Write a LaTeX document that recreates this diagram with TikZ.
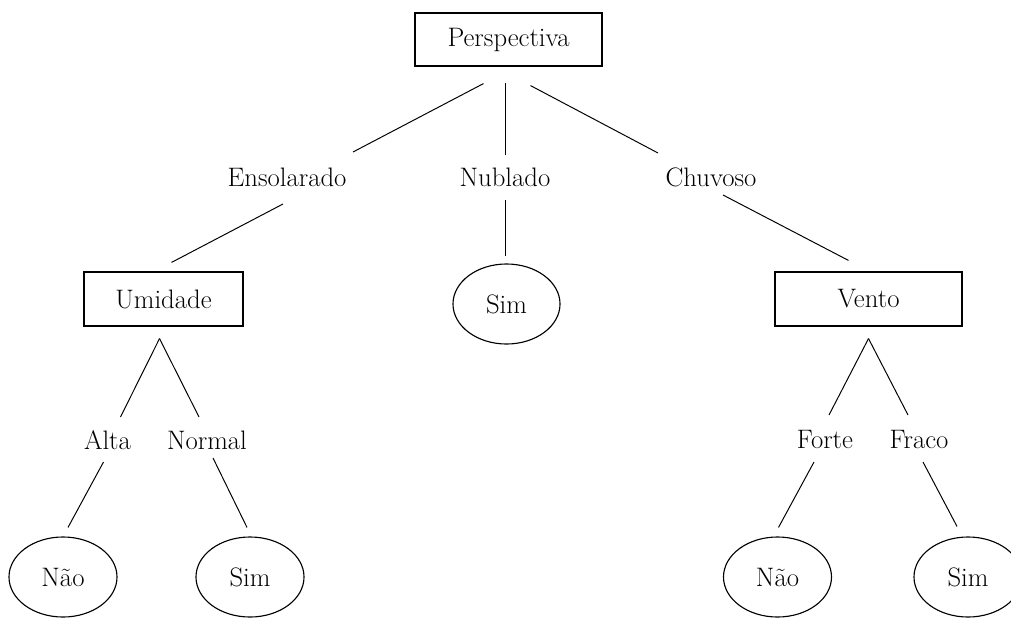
\documentclass[tikz,border=0pt]{standalone}
\usepackage{fontspec}
\usepackage{tikz}
\usetikzlibrary{shapes.geometric}

\begin{document}
\begin{tikzpicture}[x=0.025cm,y=-0.025cm,
		every node/.style={font=\fontsize{19}{22}\selectfont},
		box/.style={shape=rectangle,draw=black,line width=0.8pt,minimum width=4.675cm,minimum height=1.325cm,inner sep=0pt},
		leaf/.style={shape=ellipse,draw=black,line width=0.8pt,minimum width=2.675cm,minimum height=2cm,inner sep=0pt},
		lbl/.style={inner sep=0pt},
		branch/.style={draw=black,line width=0.7pt}]

		\useasboundingbox (0,0) rectangle (1011,618);

		\node[box] (p) at (508.5, 39.5)   {Perspectiva};

		\node[lbl] (en) at (287, 177)     {Ensolarado};
		\node[lbl] (nu) at (505, 177)     {Nublado};
		\node[lbl] (ch) at (711, 177)     {Chuvoso};

		\node[box,minimum width=3.975cm,minimum height=1.35cm] (u) at (163.5, 299) {Umidade};
		\node[leaf,minimum width=2.675cm] (s1) at (506.5, 304) {Sim};
		\node[box,minimum height=1.35cm] (v) at (868.5, 299) {Vento};

		\node[lbl] (al) at (107.5, 440)   {Alta};
		\node[lbl] (no) at (207, 440)     {Normal};
		\node[lbl] (fo) at (825, 440)     {Forte};
		\node[lbl] (fr) at (919, 440)     {Fraco};

		\node[leaf,minimum width=2.7cm] (n1) at (63, 577)   {Não};
		\node[leaf,minimum width=2.7cm] (s2) at (250, 577)  {Sim};
		\node[leaf,minimum width=2.7cm] (n2) at (777.5, 577) {Não};
		\node[leaf,minimum width=2.7cm] (s3) at (968, 577)  {Sim};

		% root to the three outlooks
		\path[branch] ([shift={(-25,17)}]p.south)  edge ([shift={(66,-25)}]en.center);
		\path[branch] ([shift={(-3.5,16)}]p.south) edge ([shift={(0,-22)}]nu.center);
		\path[branch] ([shift={(22,19)}]p.south)   edge ([shift={(-53,-24)}]ch.center);

		\path[branch] ([shift={(-4,27)}]en.center) edge ([shift={(8,-9)}]u.north);
		\path[branch] ([shift={(0,23)}]nu.center)  edge ([shift={(-1.5,-7)}]s1.north);
		\path[branch] ([shift={(12,18)}]ch.center) edge ([shift={(-20,-11)}]v.north);

		% Umidade
		\path[branch] ([shift={(-4,12)}]u.south) edge ([shift={(13,-23)}]al.center);
		\path[branch] ([shift={(-4,12)}]u.south) edge ([shift={(-8,-23)}]no.center);
		\path[branch] ([shift={(-4,22)}]al.center) edge ([shift={(5,-9)}]n1.north);
		\path[branch] ([shift={(6,18)}]no.center)  edge ([shift={(-3,-9)}]s2.north);

		% Vento
		\path[branch] ([shift={(0,12)}]v.south) edge ([shift={(4,-25)}]fo.center);
		\path[branch] ([shift={(0,12)}]v.south) edge ([shift={(-11,-25)}]fr.center);
		\path[branch] ([shift={(-11,22)}]fo.center) edge ([shift={(1,-9)}]n2.north);
		\path[branch] ([shift={(4,22)}]fr.center)   edge ([shift={(-11,-10)}]s3.north);
\end{tikzpicture}
\end{document}
